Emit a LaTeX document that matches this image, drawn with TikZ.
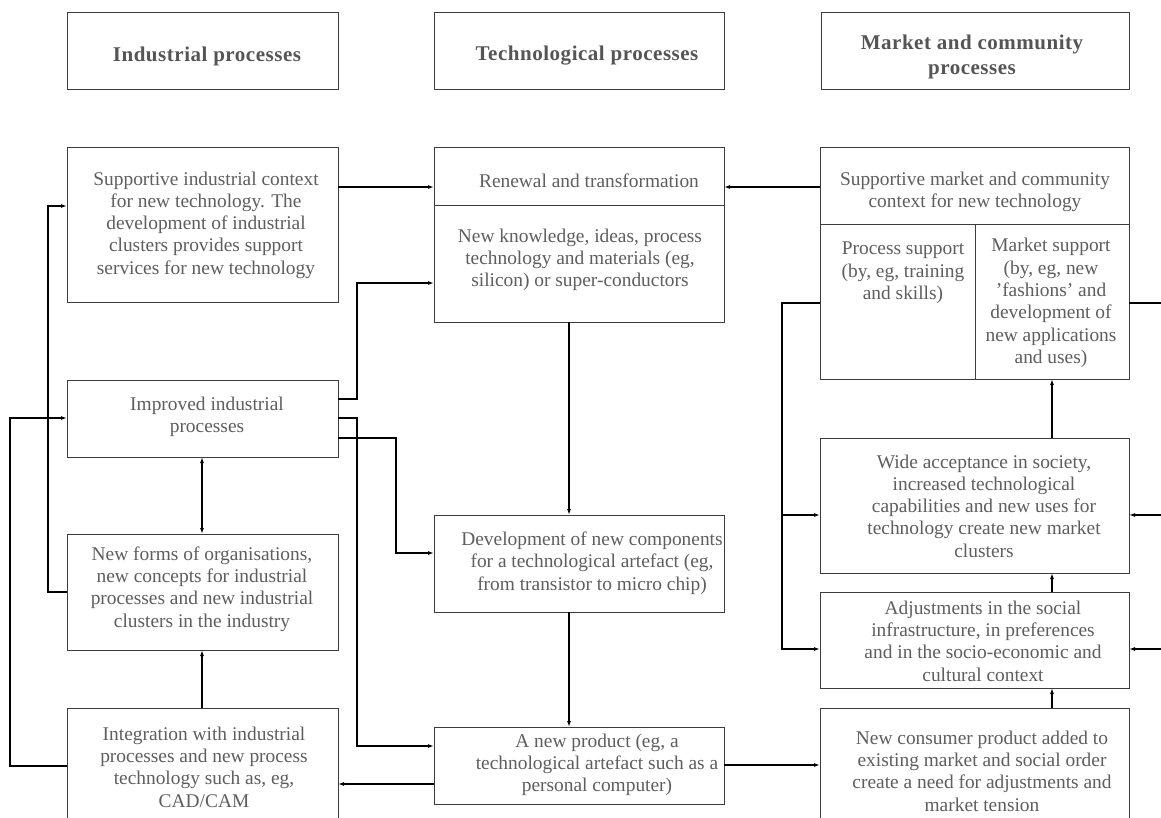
\documentclass[tikz,border=0pt]{standalone}
\usepackage{fontspec}
\setmainfont{Liberation Serif}
\newfontfamily\hdfont{Liberation Serif}[LetterSpace=2.5]
\usetikzlibrary{arrows.meta}
\definecolor{txtgray}{HTML}{5E5E5E}
\definecolor{hdgray}{HTML}{555555}
\definecolor{boxgray}{HTML}{3C3C3C}
\newcommand{\bodyfont}{\fontsize{19.4}{22.3}\selectfont}
\newcommand{\headfont}{\hdfont\bfseries\fontsize{21}{24.5}\selectfont}
\tikzset{
  box/.style={draw=boxgray, line width=1pt, rectangle, inner sep=0pt, outer sep=0pt, anchor=north west},
  txt/.style={align=center, inner sep=0pt, text=txtgray, font=\bodyfont},
  hdtxt/.style={align=center, inner sep=0pt, text=hdgray, font=\headfont},
  conn/.style={draw=black, line width=1.2pt},
  arr/.style={conn, -{Latex[length=6pt,width=4pt]}},
  darr/.style={conn, {Latex[length=6pt,width=4pt]}-{Latex[length=6pt,width=4pt]}},
}
\begin{document}
\begin{tikzpicture}[x=1pt,y=-1pt]
\useasboundingbox (0,0) rectangle (1161,818);
\fill[white] (0,0) rectangle (1161,818);

% helper coordinates
\foreach \v in {187,206,283,303,399,418,438,515,553,592,649,746,765,766,784}
  {\coordinate (y\v) at (0,\v);}
\coordinate (x202) at (202,0);
\coordinate (x569) at (569,0);
\coordinate (x1052) at (1052,0);
\coordinate (j1) at (357,0);
\coordinate (j2) at (396,0);
\coordinate (j3) at (48,0);
\coordinate (j4) at (10,0);
\coordinate (j5) at (782,0);
\coordinate (j6) at (1180,0);

% header boxes
\node[box, minimum width=271pt, minimum height=77pt] (h1) at (67,13) {};
\node[box, minimum width=290pt, minimum height=77pt] (h2) at (434,13) {};
\node[box, minimum width=308pt, minimum height=77pt] (h3) at (821,13) {};
\node[hdtxt] (h1t) at (207,56) {Industrial processes};
\node[hdtxt] (h2t) at (587,56) {Technological processes};
\node[hdtxt] (h3t) at (972,57) {Market and community\\processes};

% left column
\node[box, minimum width=271pt, minimum height=154pt] (sind) at (67,148) {};
\node[txt] (sindt) at (206,225) {Supportive industrial context\\for new technology. The\\development of industrial\\clusters provides support\\services for new technology};
\node[box, minimum width=271pt, minimum height=77pt] (impr) at (67,380) {};
\node[txt] (imprt) at (207,417) {Improved industrial\\processes};
\node[box, minimum width=271pt, minimum height=116pt] (nforms) at (67,534) {};
\node[txt] (nformst) at (202,589) {New forms of organisations,\\new concepts for industrial\\processes and new industrial\\clusters in the industry};
\node[box, minimum width=271pt, minimum height=140pt] (integ) at (67,708) {};
\node[txt] (integt) at (204,767) {Integration with industrial\\processes and new process\\technology such as, eg,\\CAD/CAM};

% middle column
\node[box, minimum width=290pt, minimum height=174pt] (renew) at (434,148) {};
\draw[draw=boxgray, line width=1pt] (renew.west |- y206) -- (renew.east |- y206);
\node[txt] (renewt) at (589,181) {Renewal and transformation};
\node[txt] (knowt) at (580,260) {New knowledge, ideas, process\\technology and materials (eg,\\silicon) or super-conductors};
\node[box, minimum width=290pt, minimum height=97pt] (dev) at (434,515) {};
\node[txt] (devt) at (592,563) {Development of new components\\for a technological artefact (eg,\\from transistor to micro chip)};
\node[box, minimum width=290pt, minimum height=77pt] (prod) at (434,727) {};
\node[txt] (prodt) at (597,765) {A new product (eg, a\\technological artefact such as a\\personal computer)};

% right column
\node[box, minimum width=309pt, minimum height=231pt] (smkt) at (820,148) {};
\coordinate (y225) at (0,225);
\coordinate (x975) at (975,0);
\draw[draw=boxgray, line width=1pt] (smkt.west |- y225) -- (smkt.east |- y225);
\draw[draw=boxgray, line width=1pt] (x975 |- y225) -- (x975 |- smkt.south);
\node[txt] (smktt) at (975,192) {Supportive market and community\\context for new technology};
\node[txt] (proct) at (903,273) {Process support\\(by, eg, training\\and skills)};
\node[txt] (mktt) at (1051,303) {Market support\\(by, eg, new\\ ’fashions’ and\\development of\\new applications\\and uses)};
\node[box, minimum width=309pt, minimum height=135pt] (wide) at (820,438) {};
\node[txt] (widet) at (984,506) {Wide acceptance in society,\\increased technological\\capabilities and new uses for\\technology create new market\\clusters};
\node[box, minimum width=309pt, minimum height=96pt] (adj) at (820,592) {};
\node[txt] (adjt) at (983,641) {Adjustments in the social\\infrastructure, in preferences\\and in the socio-economic and\\cultural context};
\node[box, minimum width=309pt, minimum height=140pt] (cons) at (820,708) {};
\node[txt] (const) at (982,771) {New consumer product added to\\existing market and social order\\create a need for adjustments and\\market tension};

% connectors
\draw[arr] (sind.east |- y187) -- (renew.west |- y187);
\draw[arr] (smkt.west |- y187) -- (renew.east |- y187);
\draw[arr] (impr.east |- y399) -- (j1 |- y399) -- (j1 |- y283) -- (renew.west |- y283);
\draw[arr] (impr.east |- y418) -- (j1 |- y418) -- (j1 |- y746) -- (prod.west |- y746);
\draw[arr] (impr.east |- y438) -- (j2 |- y438) -- (j2 |- y553) -- (dev.west |- y553);
\draw[arr] (renew.south -| x569) -- (dev.north -| x569);
\draw[arr] (dev.south -| x569) -- (prod.north -| x569);
\draw[arr] (prod.west |- y784) -- (integ.east |- y784);
\draw[arr] (prod.east |- y765) -- (cons.west |- y765);
\draw[arr] (nforms.west |- y592) -- (j3 |- y592) -- (j3 |- y206) -- (sind.west |- y206);
\draw[arr] (integ.west |- y766) -- (j4 |- y766) -- (j4 |- y418) -- (impr.west |- y418);
\draw[darr] (impr.south -| x202) -- (nforms.north -| x202);
\draw[arr] (integ.north -| x202) -- (nforms.south -| x202);
\draw[arr] (smkt.west |- y303) -- (j5 |- y303) -- (j5 |- y649) -- (adj.west |- y649);
\draw[arr] (j5 |- y515) -- (wide.west |- y515);
\draw[conn] (smkt.east |- y303) -- (j6 |- y303) -- (j6 |- y649);
\draw[arr] (j6 |- y515) -- (wide.east |- y515);
\draw[arr] (j6 |- y649) -- (adj.east |- y649);
\draw[arr] (wide.north -| x1052) -- (smkt.south -| x1052);
\draw[arr] (adj.north -| x1052) -- (wide.south -| x1052);
\draw[arr] (cons.north -| x1052) -- (adj.south -| x1052);
\end{tikzpicture}
\end{document}
